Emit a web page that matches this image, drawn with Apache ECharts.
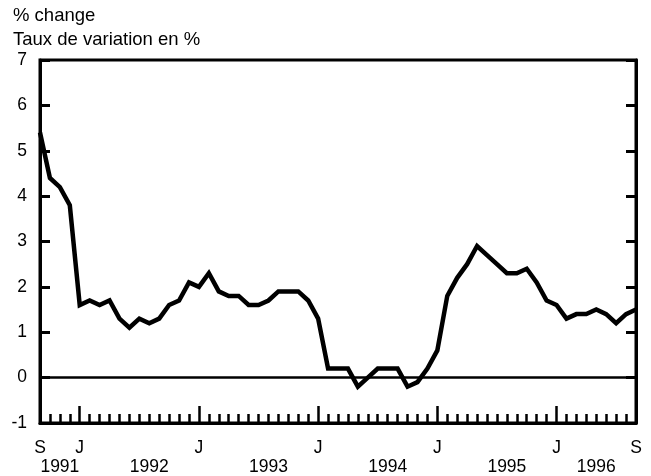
<!DOCTYPE html>
<html>
<head>
<meta charset="utf-8">
<script src="https://cdn.jsdelivr.net/npm/echarts@6/dist/echarts.min.js"></script>
<style>
  html, body { margin: 0; padding: 0; background: #fff; }
  #chart { width: 651px; height: 476px; }
</style>
</head>
<body>
<div id="chart"></div>
<script>
// months Sep 1991 .. Sep 1996
const months = [
  '1991-09','1991-10','1991-11','1991-12',
  '1992-01','1992-02','1992-03','1992-04','1992-05','1992-06','1992-07','1992-08','1992-09','1992-10','1992-11','1992-12',
  '1993-01','1993-02','1993-03','1993-04','1993-05','1993-06','1993-07','1993-08','1993-09','1993-10','1993-11','1993-12',
  '1994-01','1994-02','1994-03','1994-04','1994-05','1994-06','1994-07','1994-08','1994-09','1994-10','1994-11','1994-12',
  '1995-01','1995-02','1995-03','1995-04','1995-05','1995-06','1995-07','1995-08','1995-09','1995-10','1995-11','1995-12',
  '1996-01','1996-02','1996-03','1996-04','1996-05','1996-06','1996-07','1996-08','1996-09'
];
// % change
const values = [
  5.4, 4.4, 4.2, 3.8,
  1.6, 1.7, 1.6, 1.7, 1.3, 1.1, 1.3, 1.2, 1.3, 1.6, 1.7, 2.1,
  2.0, 2.3, 1.9, 1.8, 1.8, 1.6, 1.6, 1.7, 1.9, 1.9, 1.9, 1.7,
  1.3, 0.2, 0.2, 0.2, -0.2, 0.0, 0.2, 0.2, 0.2, -0.2, -0.1, 0.2,
  0.6, 1.8, 2.2, 2.5, 2.9, 2.7, 2.5, 2.3, 2.3, 2.4, 2.1, 1.7,
  1.6, 1.3, 1.4, 1.4, 1.5, 1.4, 1.2, 1.4, 1.5
];
// letters under the month axis
const monthTickLabels = {
  '1991-09': 'S', '1992-01': 'J', '1993-01': 'J', '1994-01': 'J',
  '1995-01': 'J', '1996-01': 'J', '1996-09': 'S'
};
// year labels (second row)
const yearLabels = {
  '1991-11': '1991', '1992-08': '1992', '1993-08': '1993',
  '1994-08': '1994', '1995-08': '1995', '1996-05': '1996'
};
const yTicks = { min: -1, max: 7, step: 1 };

const FONT = 'Liberation Sans, Arial, sans-serif';
const chart = echarts.init(document.getElementById('chart'));

const baseX = {
  type: 'category',
  data: months,
  boundaryGap: false,
  position: 'bottom',
  splitLine: { show: false }
};

chart.setOption({
  animation: false,
  title: {
    text: '% change\nTaux de variation en %',
    left: 13,
    top: 4,
    padding: 0,
    textStyle: { fontFamily: FONT, fontSize: 18.5, fontWeight: 'normal', color: '#000', lineHeight: 24 }
  },
  grid: {
    left: 40, right: 15, top: 60, bottom: 52,
    show: true, borderColor: '#000', borderWidth: 3
  },
  xAxis: [
    // monthly minor ticks + S / J letters
    Object.assign({}, baseX, {
      axisLine: { show: true, onZero: false, lineStyle: { color: '#000', width: 3 } },
      axisTick: { show: true, inside: true, length: 9, interval: 0, lineStyle: { color: '#000', width: 2.5 } },
      axisLabel: {
        interval: 0, margin: 16, fontFamily: FONT, fontSize: 17.5, color: '#000',
        formatter: v => monthTickLabels[v] || ''
      }
    }),
    // taller January ticks + year labels
    Object.assign({}, baseX, {
      axisLine: { show: false, onZero: false },
      axisTick: {
        show: true, inside: true, length: 17,
        interval: (i, v) => v.slice(5) === '01',
        lineStyle: { color: '#000', width: 2.5 }
      },
      axisLabel: {
        interval: 0, margin: 35, fontFamily: FONT, fontSize: 17.5, color: '#000',
        formatter: v => yearLabels[v] || ''
      }
    })
  ],
  yAxis: [
    {
      type: 'value', min: yTicks.min, max: yTicks.max, interval: yTicks.step,
      position: 'left',
      axisLine: { show: true, lineStyle: { color: '#000', width: 3 } },
      axisTick: { show: true, inside: true, length: 10, lineStyle: { color: '#000', width: 3 } },
      axisLabel: { margin: 13, fontFamily: FONT, fontSize: 17.5, color: '#000' },
      splitLine: { show: false }
    },
    {
      type: 'value', min: yTicks.min, max: yTicks.max, interval: yTicks.step,
      position: 'right',
      axisLine: { show: true, lineStyle: { color: '#000', width: 3 } },
      axisTick: { show: true, inside: true, length: 10, lineStyle: { color: '#000', width: 3 } },
      axisLabel: { show: false },
      splitLine: { show: false }
    }
  ],
  series: [{
    type: 'line',
    data: values,
    xAxisIndex: 0,
    yAxisIndex: 0,
    showSymbol: false,
    lineStyle: { color: '#000', width: 4.5, join: 'miter' },
    markLine: {
      silent: true,
      symbol: 'none',
      label: { show: false },
      lineStyle: { color: '#000', width: 2.5, type: 'solid' },
      data: [{ yAxis: 0 }]
    }
  }]
});
</script>
</body>
</html>
